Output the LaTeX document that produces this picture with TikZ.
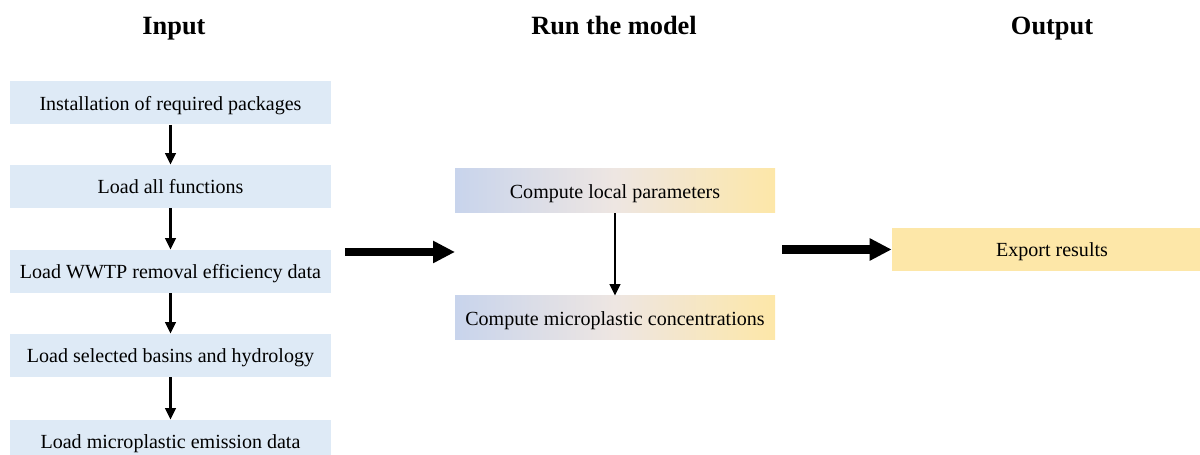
\documentclass[tikz,border=0pt]{standalone}
\usepackage{fontspec}
\setmainfont{Liberation Serif}
\usetikzlibrary{arrows.meta}

\definecolor{inblue}{HTML}{DEEAF6}
\definecolor{runblue}{HTML}{C8D4EC}
\definecolor{runmid}{HTML}{EEE6E2}
\definecolor{outyellow}{HTML}{FDE7A8}

\tikzset{
  boxtext/.style={font=\fontsize{11.4}{13}\selectfont, text height=1.95ex, text depth=0.1ex},
  inbox/.style={boxtext, fill=inblue, minimum width=6.42cm, minimum height=0.86cm, inner sep=0pt},
  runbox/.style={boxtext, left color=runblue, right color=outyellow, middle color=runmid, minimum width=6.4cm, minimum height=0.88cm, inner sep=0pt},
  outbox/.style={boxtext, fill=outyellow, minimum width=6.4cm, minimum height=0.86cm, inner sep=0pt},
  heading/.style={font=\bfseries\fontsize{15}{18}\selectfont, anchor=base},
  smallarrow/.style={-{Triangle[length=2.3mm,width=2.1mm]}, line width=1.3pt},
  bigarrow/.style={-{Triangle[length=4.4mm,width=4.2mm]}, line width=5pt}
}

\begin{document}
\begin{tikzpicture}

	\useasboundingbox (0,0) rectangle (24,9.1);
	\clip (0,0) rectangle (24,9.1);

	%Column headings
	\node[heading] (hin) at (3.48,8.4) {Input};
	\node[heading] (hrun) at (12.28,8.4) {Run the model};
	\node[heading] (hout) at (21.04,8.4) {Output};

	%Input steps
	\node[inbox] (inst) at (3.41,7.04) {Installation of required packages};
	\node[inbox] (func) at (3.41,5.37) {Load all functions};
	\node[inbox] (wwtp) at (3.41,3.67) {Load WWTP removal efficiency data};
	\node[inbox] (basin) at (3.41,1.99) {Load selected basins and hydrology};
	\node[inbox] (emis) at (3.41,0.27) {Load microplastic emission data};

	\draw[smallarrow] (inst) -- (func);
	\draw[smallarrow] (func) -- (wwtp);
	\draw[smallarrow] (wwtp) -- (basin);
	\draw[smallarrow] (basin) -- (emis);

	%Model steps
	\node[runbox] (local) at (12.3,5.28) {Compute local parameters};
	\node[runbox] (conc) at (12.3,2.74) {Compute microplastic concentrations};

	\draw[smallarrow] (local) -- (conc);

	%Output
	\node[outbox] (export) at (21.04,4.11) {Export results};

	%Big arrows between the columns
	\coordinate (a1) at (6.9,4.06);
	\coordinate (a2) at (9.1,4.06);
	\coordinate (b1) at (15.64,4.11);
	\draw[bigarrow] (a1) -- (a2);
	\draw[bigarrow] (b1) -- (export.west);

\end{tikzpicture}
\end{document}
